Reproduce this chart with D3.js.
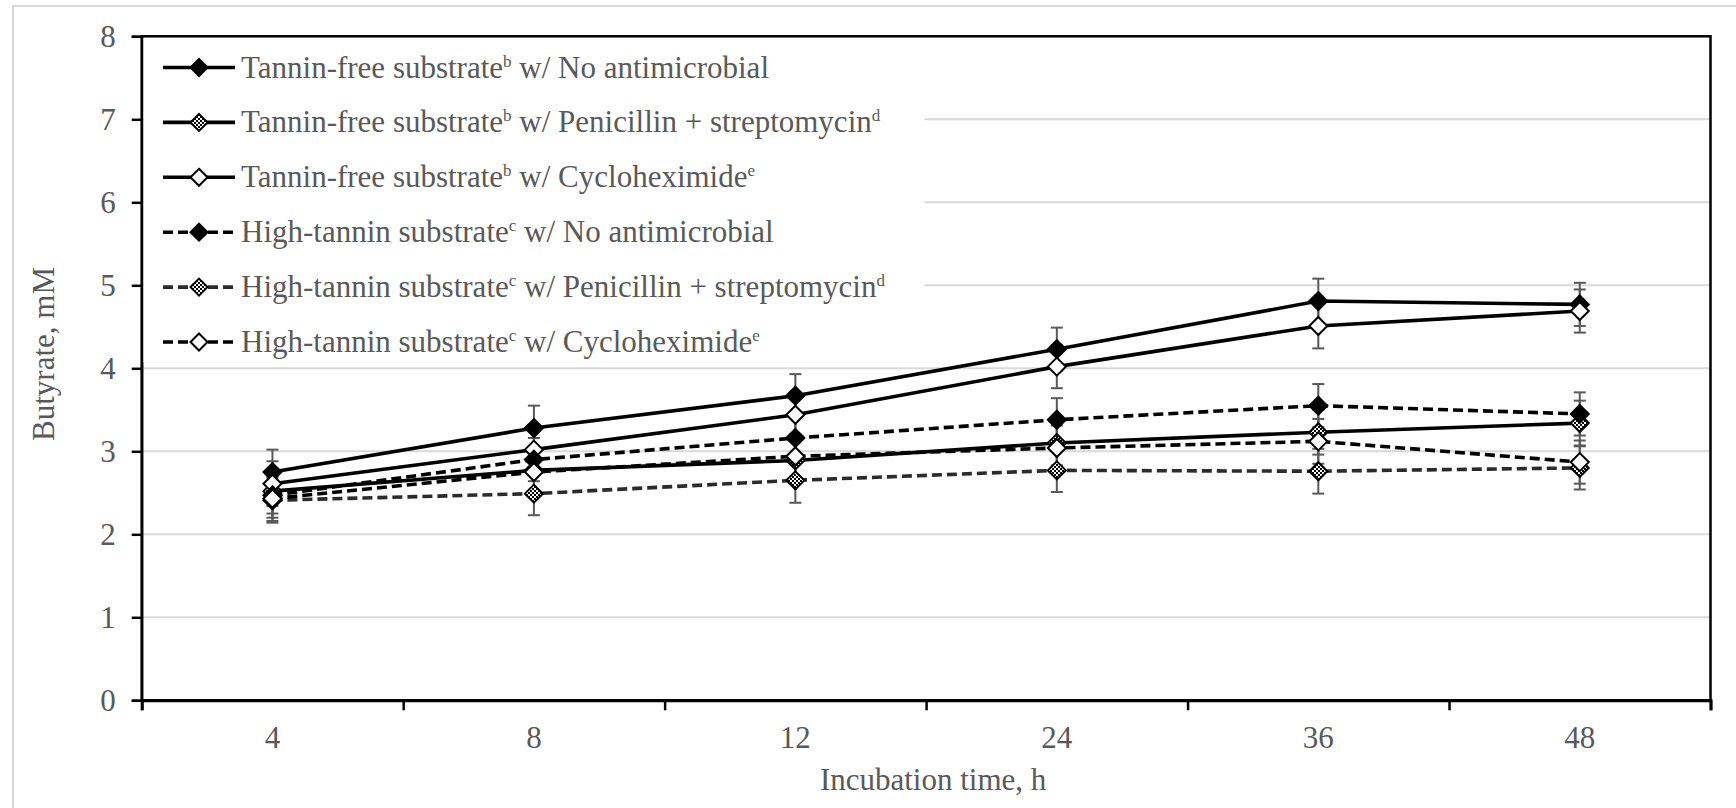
<!DOCTYPE html>
<html>
<head>
<meta charset="utf-8">
<script src="https://cdn.jsdelivr.net/npm/d3@7"></script>
<style>
  html, body { margin: 0; padding: 0; background: #fff; }
  svg { display: block; }
  text { font-family: "Liberation Serif", "Times New Roman", serif; }
</style>
</head>
<body>
<svg id="chart" width="1736" height="808"></svg>
<script>
// Incubation times (h) on the categorical x axis
const times = ["4", "8", "12", "24", "36", "48"];
const yTicks = [0, 1, 2, 3, 4, 5, 6, 7, 8];

// Butyrate concentration, mM
const tfNone  = [2.75, 3.28, 3.67, 4.23, 4.81, 4.77];
const tfPenStr = [2.52, 2.77, 2.89, 3.10, 3.23, 3.34];
const tfCyclo = [2.61, 3.02, 3.44, 4.02, 4.51, 4.69];
const htNone  = [2.47, 2.90, 3.16, 3.38, 3.55, 3.45];
const htPenStr = [2.41, 2.49, 2.65, 2.77, 2.76, 2.80];
const htCyclo = [2.43, 2.75, 2.94, 3.04, 3.12, 2.87];

// Standard errors
const tfNoneErr  = [0.27, 0.27, 0.26, 0.26, 0.27, 0.26];
const tfPenStrErr = [0.27, 0.27, 0.27, 0.27, 0.27, 0.27];
const tfCycloErr = [0.27, 0.27, 0.27, 0.26, 0.27, 0.26];
const htNoneErr  = [0.27, 0.26, 0.26, 0.26, 0.26, 0.26];
const htPenStrErr = [0.27, 0.26, 0.27, 0.26, 0.27, 0.26];
const htCycloErr = [0.27, 0.27, 0.27, 0.27, 0.27, 0.26];

// Legend labels: [main, superscript, remainder, superscript]
const labels = [
  ["Tannin-free substrate", "b", " w/ No antimicrobial", ""],
  ["Tannin-free substrate", "b", " w/ Penicillin + streptomycin", "d"],
  ["Tannin-free substrate", "b", " w/ Cycloheximide", "e"],
  ["High-tannin substrate", "c", " w/ No antimicrobial", ""],
  ["High-tannin substrate", "c", " w/ Penicillin + streptomycin", "d"],
  ["High-tannin substrate", "c", " w/ Cycloheximide", "e"]
];

const series = [
  { values: tfNone,   err: tfNoneErr,   marker: "filled", dashed: false, color: "#000" },
  { values: tfPenStr, err: tfPenStrErr, marker: "check",  dashed: false, color: "#000" },
  { values: tfCyclo,  err: tfCycloErr,  marker: "open",   dashed: false, color: "#000" },
  { values: htNone,   err: htNoneErr,   marker: "filled", dashed: true,  color: "#000" },
  { values: htPenStr, err: htPenStrErr, marker: "check",  dashed: true,  color: "#2b2b2b" },
  { values: htCyclo,  err: htCycloErr,  marker: "open",   dashed: true,  color: "#000" }
];

const svg = d3.select("#chart");
const textColor = "#595959";
const fontSize = 31;

// checkered fill for the penicillin + streptomycin markers
const defs = svg.append("defs");
const pat = defs.append("pattern")
  .attr("id", "checker").attr("patternUnits", "userSpaceOnUse")
  .attr("width", 4).attr("height", 4);
pat.append("rect").attr("width", 4).attr("height", 4).attr("fill", "#fff");
pat.append("rect").attr("width", 2).attr("height", 2).attr("fill", "#000");
pat.append("rect").attr("x", 2).attr("y", 2).attr("width", 2).attr("height", 2).attr("fill", "#000");

// chart area frame
svg.append("rect")
  .attr("x", 13).attr("y", 6).attr("width", 1740).attr("height", 820)
  .attr("fill", "#fff").attr("stroke", "#d9d9d9").attr("stroke-width", 2);

const plotLeft = 141.7, plotRight = 1710.5, plotTop = 36.3, plotBottom = 700.3;

const x = d3.scaleBand().domain(times).range([plotLeft, plotRight]).padding(0);
const xEdge = d3.scaleLinear().domain([0, times.length]).range([plotLeft, plotRight]);
const y = d3.scaleLinear().domain([0, 8]).range([plotBottom, plotTop]);
const cx = d => x(d) + x.bandwidth() / 2;

// gridlines
svg.append("g")
  .selectAll("line").data(yTicks.filter(v => v > 0 && v < 8)).join("line")
  .attr("x1", plotLeft).attr("x2", plotRight)
  .attr("y1", d => y(d)).attr("y2", d => y(d))
  .attr("stroke", "#d9d9d9").attr("stroke-width", 2);

// plot border (top and right edges)
svg.append("rect")
  .attr("x", plotLeft).attr("y", plotTop)
  .attr("width", plotRight - plotLeft).attr("height", plotBottom - plotTop)
  .attr("fill", "none").attr("stroke", "#000").attr("stroke-width", 2.5);

// y axis
const yAxis = svg.append("g")
  .attr("transform", `translate(${plotLeft},0)`)
  .call(d3.axisLeft(y).tickValues(yTicks).tickSize(10).tickPadding(16).tickFormat(d3.format("d")));
yAxis.select(".domain").attr("stroke", "#000").attr("stroke-width", 2.5);
yAxis.selectAll(".tick line").attr("stroke", "#000").attr("stroke-width", 2.5);
yAxis.selectAll(".tick text")
  .attr("fill", textColor).attr("font-size", fontSize)
  .attr("font-family", "Liberation Serif");

// x axis: tick marks at category boundaries
const xTickAxis = svg.append("g")
  .attr("transform", `translate(0,${plotBottom})`)
  .call(d3.axisBottom(xEdge).tickValues(d3.range(0, times.length + 1)).tickSize(10).tickFormat(""));
xTickAxis.select(".domain").attr("stroke", "#000").attr("stroke-width", 3);
xTickAxis.selectAll(".tick line").attr("stroke", "#000").attr("stroke-width", 2.5);

// x axis: category labels
const xLabelAxis = svg.append("g")
  .attr("transform", `translate(0,${plotBottom})`)
  .call(d3.axisBottom(x).tickSize(0).tickPadding(26));
xLabelAxis.select(".domain").remove();
xLabelAxis.selectAll(".tick text")
  .attr("fill", textColor).attr("font-size", fontSize)
  .attr("font-family", "Liberation Serif");

// axis titles
svg.append("text")
  .attr("x", (plotLeft + plotRight) / 2 + 7).attr("y", 790)
  .attr("text-anchor", "middle").attr("fill", textColor).attr("font-size", fontSize)
  .text("Incubation time, h");
svg.append("text")
  .attr("transform", "translate(54,354) rotate(-90)")
  .attr("text-anchor", "middle").attr("fill", textColor).attr("font-size", fontSize)
  .text("Butyrate, mM");

// error bars
const errG = svg.append("g");
series.forEach(s => {
  times.forEach((t, i) => {
    const v = s.values[i], e = s.err[i];
    const g = errG.append("g").attr("stroke", "#595959").attr("stroke-width", 2);
    g.append("line").attr("x1", cx(t)).attr("x2", cx(t)).attr("y1", y(v - e)).attr("y2", y(v + e));
    g.append("line").attr("x1", cx(t) - 6).attr("x2", cx(t) + 6).attr("y1", y(v - e)).attr("y2", y(v - e));
    g.append("line").attr("x1", cx(t) - 6).attr("x2", cx(t) + 6).attr("y1", y(v + e)).attr("y2", y(v + e));
  });
});

const markerFill = m => m === "filled" ? "#000" : (m === "check" ? "url(#checker)" : "#fff");
const diamond = (px, py, r) => `M${px},${py - r}L${px + r},${py}L${px},${py + r}L${px - r},${py}Z`;

// series lines and markers
const line = d3.line().x(d => cx(d.t)).y(d => y(d.v));
series.forEach(s => {
  const pts = times.map((t, i) => ({ t, v: s.values[i] }));
  svg.append("path")
    .attr("d", line(pts))
    .attr("fill", "none").attr("stroke", s.color).attr("stroke-width", 3.6)
    .attr("stroke-dasharray", s.dashed ? "10,5" : null);
  svg.append("g").selectAll("path").data(pts).join("path")
    .attr("d", d => diamond(cx(d.t), y(d.v), 9))
    .attr("fill", markerFill(s.marker))
    .attr("stroke", "#000").attr("stroke-width", 2);
});

// legend
const lg = svg.append("g");
lg.append("rect").attr("x", 143.5).attr("y", 38).attr("width", 781).attr("height", 324).attr("fill", "#fff");
series.forEach((s, i) => {
  const ly = 67.5 + i * 54.9;
  lg.append("line")
    .attr("x1", 163).attr("x2", 235).attr("y1", ly).attr("y2", ly)
    .attr("stroke", s.color).attr("stroke-width", 3.6)
    .attr("stroke-dasharray", s.dashed ? "10,5" : null);
  lg.append("path")
    .attr("d", diamond(199, ly, 8.5))
    .attr("fill", markerFill(s.marker))
    .attr("stroke", "#000").attr("stroke-width", 2);
  const t = lg.append("text")
    .attr("x", 241).attr("y", ly + 10)
    .attr("fill", textColor).attr("font-size", fontSize);
  const [a, supA, b, supB] = labels[i];
  t.append("tspan").text(a);
  t.append("tspan").attr("font-size", 17).attr("dy", -11).text(supA);
  t.append("tspan").attr("dy", 11).text(b);
  if (supB) t.append("tspan").attr("font-size", 17).attr("dy", -11).text(supB);
});
</script>
</body>
</html>
